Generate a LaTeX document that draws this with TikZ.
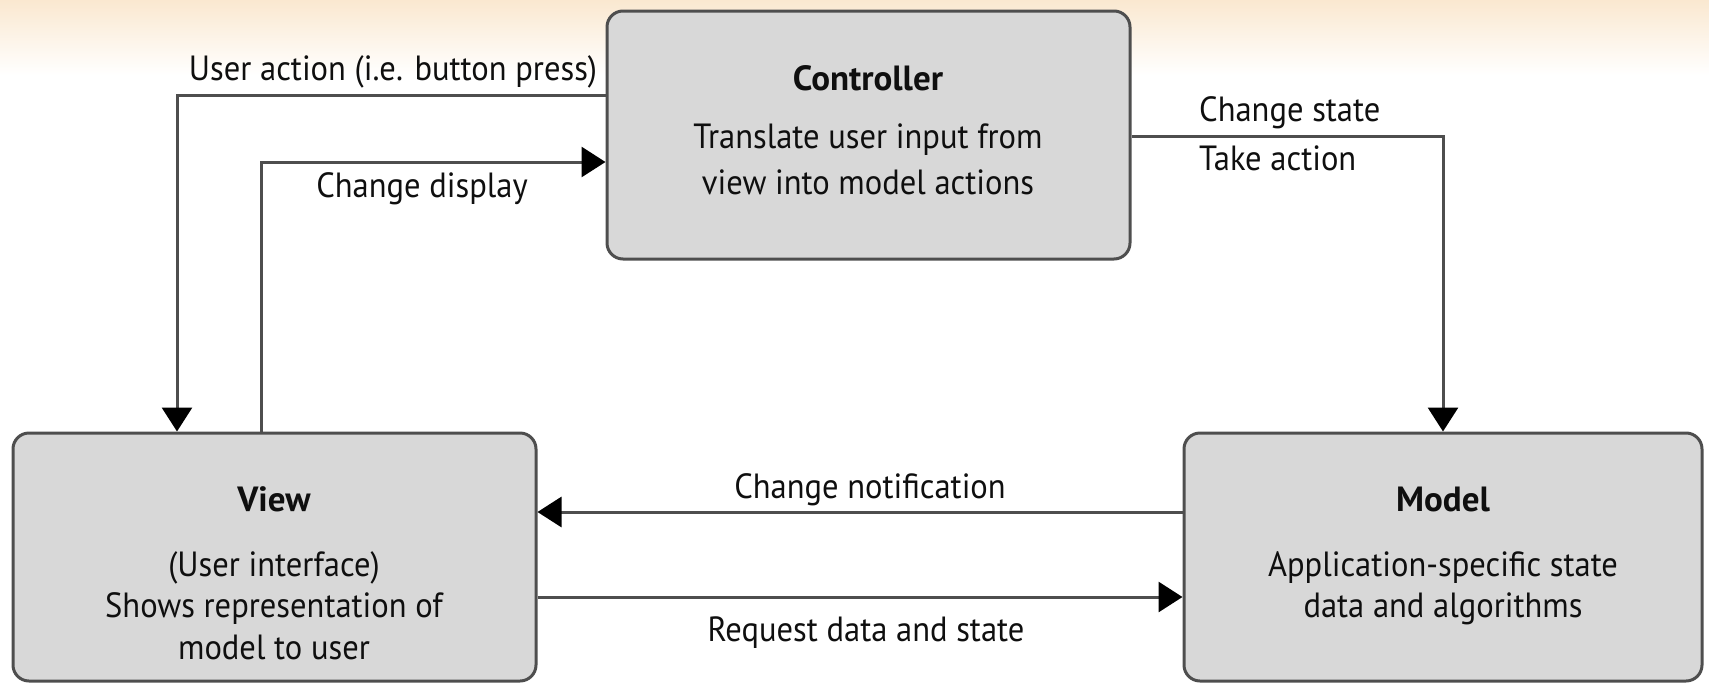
\documentclass[tikz,border=0pt]{standalone}
\usepackage{fontspec}
\setmainfont{PT Sans}[FakeStretch=0.93, BoldFeatures={FakeStretch=1.0}]
\usetikzlibrary{arrows.meta}
\definecolor{boxfill}{RGB}{216,216,216}
\definecolor{edge}{RGB}{78,78,78}
\definecolor{haze}{RGB}{250,232,208}
\definecolor{ink}{RGB}{15,15,15}
\begin{document}
\begin{tikzpicture}[x=1pt,y=-1pt,
  box/.style={draw=edge, line width=3pt, fill=boxfill, rounded corners=16pt, inner sep=0pt},
  conn/.style={draw=edge, line width=3pt},
  tip/.style={-{Triangle[length=24pt,width=30pt,color=black]}},
  lbl/.style={font=\fontsize{35}{35}\selectfont, text=ink, inner sep=0pt, anchor=base},
  ttl/.style={lbl, font=\bfseries\fontsize{35}{35}\selectfont}
]
\useasboundingbox (0,0) rectangle (1709,683);
% warm haze along the top edge
\shade[top color=haze, bottom color=white] (0,0) rectangle (1709,75);

% the three components
\node[box, minimum width=523pt, minimum height=248pt] (ctrl) at (868.5,135) {};
\node[box, minimum width=523pt, minimum height=248pt] (view) at (274.5,557) {};
\node[box, minimum width=518pt, minimum height=248pt] (model) at (1443,557) {};

% texts inside the boxes
\node[ttl] (ctrl-t) at (868,90) {Controller};
\node[lbl] (ctrl-1) at (868,148) {Translate user input from};
\node[lbl] (ctrl-2) at (868,194) {view into model actions};

\node[ttl] (view-t) at (274,511) {View};
\node[lbl] (view-1) at (274,576) {(User interface)};
\node[lbl] (view-2) at (274,617) {Shows representation of};
\node[lbl] (view-3) at (274,659) {model to user};

\node[ttl] (model-t) at (1443,511) {Model};
\node[lbl] (model-1) at (1443,576) {Application-specific state};
\node[lbl] (model-2) at (1443,617) {data and algorithms};

% bends of the routed connectors
\coordinate (ua) at (177,95);
\coordinate (cd) at (261,162);
\coordinate (cs) at (1443,136);
\coordinate (cn) at (0,512);
\coordinate (rq) at (0,597);

% connectors
\draw[conn, tip] (ctrl.west |- ua) -- (ua) -- (view.north -| ua);
\draw[conn, tip] (view.north -| cd) -- (cd) -- (ctrl.west |- cd);
\draw[conn, tip] (ctrl.east |- cs) -| (model.north);
\draw[conn, tip] (model.west |- cn) -- (view.east |- cn);
\draw[conn, tip] (view.east |- rq) -- (model.west |- rq);

% connector labels
\node[lbl] (ua-l) at (393,80) {User action (i.e. button press)};
\node[lbl] (cd-l) at (422,197) {Change display};
\node[lbl, anchor=base west] (cs-l1) at (1199,121) {Change state};
\node[lbl, anchor=base west] (cs-l2) at (1199,170) {Take action};
\node[lbl] (cn-l) at (870,498) {Change notification};
\node[lbl] (rq-l) at (866,641) {Request data and state};
\end{tikzpicture}
\end{document}
